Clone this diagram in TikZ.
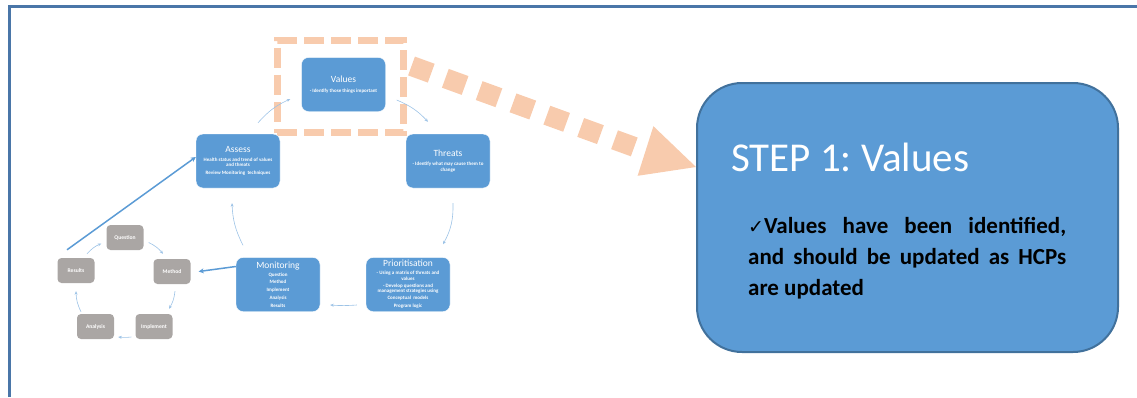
\documentclass[tikz,border=0pt]{standalone}
\usepackage{fontspec}
\setmainfont{Carlito}
\newfontfamily\symfont{DejaVu Sans}
\usetikzlibrary{arrows.meta,calc}

\definecolor{cellblue}{HTML}{5B9BD5}
\definecolor{edgeblue}{HTML}{41719C}
\definecolor{frameblue}{HTML}{4A76A8}
\definecolor{peach}{HTML}{F8CBAD}
\definecolor{stone}{HTML}{AAA6A4}
\definecolor{paleblue}{HTML}{9DC3E6}

\newcommand\cs{\fontsize{5}{7}\selectfont\bfseries}

\tikzset{
  card/.style={fill=cellblue, draw=white, line width=0.4pt, rounded corners=7pt,
    minimum width=84pt, minimum height=54pt, text=white, align=center,
    inner sep=2pt, font=\fontsize{9.5}{7}\selectfont},
  chip/.style={fill=stone, rounded corners=4pt, minimum width=37pt,
    minimum height=25pt, text=white, inner sep=0pt,
    font=\fontsize{5.6}{6}\selectfont\bfseries},
  flow/.style={paleblue, line width=0.6pt, -{Stealth[length=3.5pt,width=3pt]}},
  boldflow/.style={cellblue, line width=1.5pt, -{Stealth[length=5pt,width=5pt]}},
  focusbox/.style={draw=peach, line width=7pt, dash pattern=on 20pt off 7pt,
    minimum width=126pt, minimum height=92pt, inner sep=0pt},
  bigdots/.style={draw=peach, line width=20pt, dash pattern=on 21pt off 15pt},
  stepbox/.style={fill=cellblue, draw=edgeblue, line width=2pt, rounded corners=45pt,
    minimum width=421pt, minimum height=269pt, inner sep=0pt}
}

\begin{document}
\frenchspacing
\begin{tikzpicture}[x=1pt, y=-1pt]
  \useasboundingbox (0,0) rectangle (1137,397);

  % page frame on the left and top
  \draw[frameblue, line width=3pt] (9.5,397) -- (9.5,6.5) -- (1137,6.5);

  % highlight around the current step
  \node[focusbox] (focus) at (340,86.5) {};

  % main cycle
  \node[card] (values) at (343.5,84.5)
    {Values\\[3pt]\cs - Identify those things important};
  \node[card] (threats) at (448,161)
    {Threats\\[2pt]\cs - Identify what may cause them to\\[-1.5pt]\cs change};
  \node[card] (assess) at (238,161)
    {Assess\\[2pt]\cs Health status and trend of values\\[-1.5pt]\cs and threats\\[1pt]%
     \cs Review Monitoring\ \ techniques};
  \node[card] (prio) at (408,284.5)
    {Prioritisation\\[1pt]\cs - Using a matrix of threats and\\[-1.5pt]\cs values\\[0pt]%
     \cs - Develop questions and\\[-1.5pt]\cs management strategies using\\[0pt]%
     \cs Conceptual\ \ models\\[1pt]\cs Program logic};
  \node[card] (monitor) at (278,284.5)
    {Monitoring\\[1pt]\cs Question\\[0.8pt]\cs Method\\[0.8pt]%
     \cs Implement\\[0.8pt]\cs Analysis\\[0.8pt]\cs Results};

  % monitoring sub-cycle
  \node[chip] (question)  at (125,237.5) {Question};
  \node[chip] (method)    at (172,271.5) {Method};
  \node[chip] (implement) at (154,326.5) {Implement};
  \node[chip] (analysis)  at (95.5,326.5) {Analysis};
  \node[chip] (results)   at (76,270.5) {Results};

  % main cycle connectors
  \draw[flow] ([shift={(20,-11)}]assess.north) to[bend left=12] ([shift={(-11,14.5)}]values.west);
  \draw[flow] ([shift={(11,15.5)}]values.east) to[bend left=12] ([shift={(-20,-12)}]threats.north);
  \draw[flow] ([shift={(5,15)}]threats.south) to[bend left=15] ([shift={(35,-13)}]prio.north);
  \draw[flow] ([shift={(-9,20.5)}]prio.west) to[bend left=4] ([shift={(10,20.5)}]monitor.east);
  \draw[flow] ([shift={(-35,-12)}]monitor.north) to[bend left=12] ([shift={(-6,15)}]assess.south);

  % sub-cycle connectors
  \draw[flow] ([shift={(5,5)}]question.east) to[bend left=12] ([shift={(-9,-5)}]method.north);
  \draw[flow] ([shift={(3,7)}]method.south) to[bend left=12] ([shift={(15,-5)}]implement.north);
  \draw[flow] ([shift={(-4,10.5)}]implement.west) to[bend left=6] ([shift={(4,10.5)}]analysis.east);
  \draw[flow] ([shift={(-14.5,-2)}]analysis.north) to[bend left=12] ([shift={(0,8)}]results.south);
  \draw[flow] ([shift={(11,-4)}]results.north) to[bend left=12] ([shift={(-5,6)}]question.west);

  % links between the two cycles
  \draw[boldflow] ([shift={(0,-18)}]monitor.west) -- ([shift={(8,0)}]method.east);
  \draw[boldflow] ([shift={(-9,-8)}]results.north) -- ([shift={(0,-4)}]assess.west);

  % step panel
  \node[stepbox] (step) at (907.5,217.5) {};
  \node[anchor=base west, text=white, inner sep=0pt, font=\fontsize{41}{41}\selectfont]
    (steptitle) at (731,171) {STEP 1: Values};
  \node[anchor=north west, inner sep=0pt, text width=318pt, align=justify,
    font=\fontsize{23}{31}\selectfont\bfseries]
    (stepbody) at (748,217)
    {{\symfont\fontsize{19}{31}\selectfont ✓}Values have been identified,\linebreak
     and should be updated as HCPs\linebreak are updated};

  % dotted pointer from the highlighted step to the panel
  \draw[bigdots] ([shift={(5,29)}]focus.north east) -- ([shift={(-50.5,-66.5)}]step.west);
  \fill[peach] ([shift={(0,-50.5)}]step.west) -- ([shift={(-58.4,-41.7)}]step.west)
    -- ([shift={(-42.6,-91.3)}]step.west) -- cycle;
\end{tikzpicture}
\end{document}
